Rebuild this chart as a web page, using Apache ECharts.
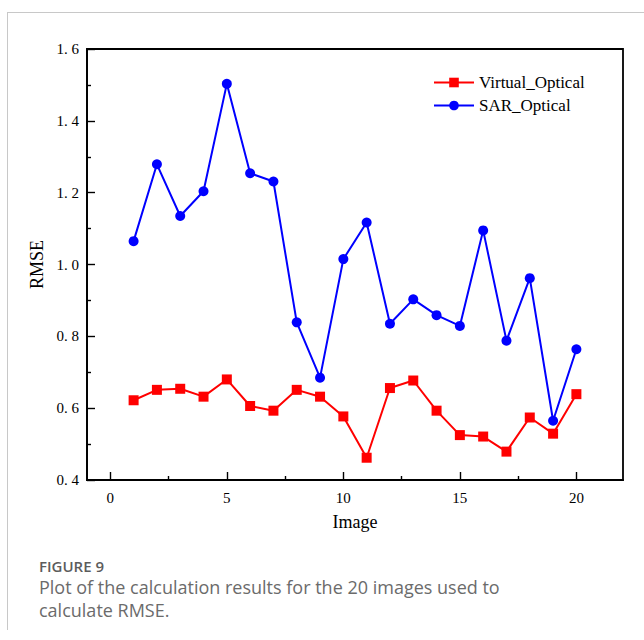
<!DOCTYPE html>
<html>
<head>
<meta charset="utf-8">
<script src="https://cdn.jsdelivr.net/npm/echarts@6/dist/echarts.min.js"></script>
<style>
  html, body { margin: 0; padding: 0; background: #fff; }
  #chart { width: 644px; height: 640px; }
</style>
</head>
<body>
<div id="chart"></div>
<script>
const images = [1, 2, 3, 4, 5, 6, 7, 8, 9, 10, 11, 12, 13, 14, 15, 16, 17, 18, 19, 20];
const virtualOptical = [0.622, 0.651, 0.654, 0.632, 0.680, 0.606, 0.593, 0.651, 0.632, 0.577,
                        0.462, 0.656, 0.677, 0.593, 0.525, 0.521, 0.479, 0.574, 0.529, 0.639];
const sarOptical = [1.065, 1.279, 1.135, 1.204, 1.503, 1.254, 1.231, 0.839, 0.685, 1.015,
                    1.117, 0.835, 0.903, 0.859, 0.829, 1.095, 0.788, 0.962, 0.565, 0.764];
const xMajorTicks = [0, 5, 10, 15, 20];
const xMinorTicks = [2.5, 7.5, 12.5, 17.5];
const seriesNames = ['Virtual_Optical', 'SAR_Optical'];
const axisTitles = ['Image', 'RMSE'];
const captionTitle = 'FIGURE 9';
const captionLines = ['Plot of the calculation results for the 20 images used to', 'calculate RMSE.'];

const serif = 'Liberation Serif, Times New Roman, serif';
const chart = echarts.init(document.getElementById('chart'), null, { renderer: 'svg' });

const pairs = (ys) => images.map((x, i) => [x, ys[i]]);

chart.setOption({
  animation: false,
  backgroundColor: '#ffffff',
  grid: {
    left: 87, right: 21, top: 49, bottom: 160,
    show: true, borderColor: '#000', borderWidth: 1.8, backgroundColor: 'transparent'
  },
  legend: {
    orient: 'vertical',
    left: 428, top: 69,
    itemWidth: 40, itemHeight: 12, itemGap: 6,
    textStyle: { fontFamily: serif, fontSize: 17, color: '#000' },
    data: seriesNames
  },
  xAxis: [{
    type: 'value', min: -1, max: 22,
    name: axisTitles[0], nameLocation: 'middle', nameGap: 33,
    nameTextStyle: { fontFamily: serif, fontSize: 18, color: '#000' },
    axisLine: { show: true, onZero: false, lineStyle: { color: '#000', width: 1.8 } },
    axisTick: { show: true, inside: true, length: 8, customValues: xMajorTicks, lineStyle: { color: '#000', width: 1.4 } },
    axisLabel: { customValues: xMajorTicks, margin: 10, fontFamily: serif, fontSize: 15, color: '#000' },
    splitLine: { show: false }
  }, {
    type: 'value', min: -1, max: 22, position: 'bottom',
    axisLine: { show: false },
    axisTick: { show: true, inside: true, length: 4, customValues: xMinorTicks, lineStyle: { color: '#000', width: 1.4 } },
    axisLabel: { show: false },
    splitLine: { show: false }
  }],
  yAxis: {
    type: 'value', min: 0.4, max: 1.6, interval: 0.2,
    name: axisTitles[1], nameLocation: 'middle', nameGap: 36,
    nameTextStyle: { fontFamily: serif, fontSize: 18, color: '#000' },
    axisLine: { show: true, onZero: false, lineStyle: { color: '#000', width: 1.8 } },
    axisTick: { show: true, inside: true, length: 8, lineStyle: { color: '#000', width: 1.4 } },
    minorTick: { show: true, splitNumber: 2, length: 4, lineStyle: { color: '#000', width: 1.4 } },
    axisLabel: {
      margin: 8, fontFamily: serif, fontSize: 15, color: '#000',
      formatter: (v) => v.toFixed(1).replace('.', '. ')
    },
    splitLine: { show: false }
  },
  series: [{
    name: seriesNames[0], type: 'line', data: pairs(virtualOptical),
    symbol: 'rect', symbolSize: 10,
    lineStyle: { color: '#ff0000', width: 2 },
    itemStyle: { color: '#ff0000' }
  }, {
    name: seriesNames[1], type: 'line', data: pairs(sarOptical),
    symbol: 'circle', symbolSize: 10,
    lineStyle: { color: '#0000ff', width: 2 },
    itemStyle: { color: '#0000ff' }
  }],
  graphic: [
    { type: 'line', shape: { x1: 7, y1: 12.5, x2: 644, y2: 12.5 }, style: { stroke: '#c8c8c8', lineWidth: 1 }, silent: true },
    { type: 'line', shape: { x1: 7.5, y1: 12, x2: 7.5, y2: 630 }, style: { stroke: '#c8c8c8', lineWidth: 1 }, silent: true },
    { type: 'text', left: 39, top: 558, style: { text: captionTitle, font: '600 15px "Open Sans", sans-serif', lineHeight: 15, fill: '#5c5c5c' } },
    { type: 'text', left: 39, top: 578, style: { text: captionLines[0], font: '18px "Open Sans", sans-serif', lineHeight: 18, fill: '#6b6b6b' } },
    { type: 'text', left: 39, top: 601, style: { text: captionLines[1], font: '18px "Open Sans", sans-serif', lineHeight: 18, fill: '#6b6b6b' } }
  ]
});
</script>
</body>
</html>
